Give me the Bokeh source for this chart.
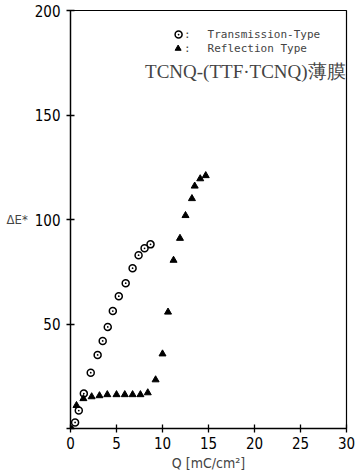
from bokeh.plotting import figure
from bokeh.models import Range1d, FixedTicker, Label
from bokeh.embed import file_html
from bokeh.resources import INLINE

# Transmission-type (circle with dot)
trans_q = [0.0, 0.5, 0.9, 1.45, 2.2, 2.95, 3.5, 4.05, 4.6, 5.25, 6.0, 6.75, 7.4, 8.05, 8.7]
trans_de = [0.0, 2.9, 8.6, 16.7, 26.7, 35.2, 41.9, 48.6, 56.2, 63.3, 69.5, 76.7, 82.9, 86.2, 88.1]

# Reflection-type (filled triangle)
refl_q = [0.65, 1.4, 2.3, 3.15, 4.0, 5.0, 5.9, 6.75, 7.6, 8.4, 9.25, 10.0, 10.6, 11.2, 11.9, 12.5, 13.2, 13.5, 14.1, 14.7]
refl_de = [11.0, 14.3, 15.2, 15.7, 16.2, 16.2, 16.2, 16.2, 16.2, 17.1, 23.3, 35.7, 55.7, 80.5, 91.0, 101.9, 110.0, 116.0, 119.5, 121.0]

x_ticks = [0, 5, 10, 15, 20, 25, 30]
y_ticks = [0, 50, 100, 150, 200]

p = figure(width=360, height=474, output_backend="svg", toolbar_location=None,
           x_range=Range1d(0, 30), y_range=Range1d(0, 200),
           min_border_left=70, min_border_right=14, min_border_top=10, min_border_bottom=46)
p.background_fill_color = "white"
p.border_fill_color = "white"
p.outline_line_color = "black"
p.outline_line_width = 1.2
p.xgrid.visible = False
p.ygrid.visible = False

tick_font = "DejaVu Sans Condensed, Liberation Sans, sans-serif"
for ax in (p.xaxis[0], p.yaxis[0]):
    ax.axis_line_color = "black"
    ax.axis_line_width = 1.3
    ax.major_tick_in = 4
    ax.major_tick_out = 4
    ax.major_tick_line_color = "black"
    ax.major_tick_line_width = 1.3
    ax.minor_tick_line_color = None
    ax.major_label_text_font = tick_font
    ax.major_label_text_font_size = "15px"
    ax.major_label_text_color = "black"

p.xaxis[0].ticker = FixedTicker(ticks=x_ticks)
p.yaxis[0].ticker = FixedTicker(ticks=y_ticks)
p.yaxis[0].major_label_overrides = {0: ""}
p.xaxis[0].major_label_standoff = 4
p.yaxis[0].major_label_standoff = 6
p.xaxis[0].axis_label = "Q [mC/cm²]"
p.xaxis[0].axis_label_text_font = tick_font
p.xaxis[0].axis_label_text_font_style = "normal"
p.xaxis[0].axis_label_text_font_size = "14px"
p.xaxis[0].axis_label_standoff = 3
p.yaxis[0].axis_label = "ΔE*"
p.yaxis[0].axis_label_orientation = "horizontal"
p.yaxis[0].axis_label_text_font = tick_font
p.yaxis[0].axis_label_text_font_style = "normal"
p.yaxis[0].axis_label_text_font_size = "13px"
p.yaxis[0].axis_label_standoff = 4

# data
p.scatter(trans_q[1:], trans_de[1:], marker="circle_dot", size=7, line_color="black",
          line_width=1.5, fill_color="white")
p.scatter(refl_q, refl_de, marker="triangle", size=7, line_color="black", fill_color="black")
p.scatter(trans_q[:1], trans_de[:1], marker="circle", size=6, line_color="black", fill_color="black")

# legend / annotations
p.scatter([11.75], [188.5], marker="circle_dot", size=7, line_color="black", line_width=1.5, fill_color="white")
p.scatter([11.7], [181.8], marker="triangle", size=6, line_color="black", fill_color="black")
for yy, txt in ((188.5, "Transmission-Type"), (181.8, "Reflection Type")):
    p.add_layout(Label(x=12.7, y=yy, text=":", text_font="DejaVu Sans Mono", text_font_size="11px",
                       text_baseline="middle", text_align="center"))
    p.add_layout(Label(x=14.9, y=yy, text=txt, text_font="DejaVu Sans Mono", text_font_size="11px",
                       text_baseline="middle", text_align="left"))
p.add_layout(Label(x=29.9, y=171, text="TCNQ-(TTF·TCNQ)薄膜", text_font="Liberation Serif",
                   text_font_size="19px", text_baseline="middle", text_align="right"))

open("out.html", "w").write(file_html(p, INLINE))
